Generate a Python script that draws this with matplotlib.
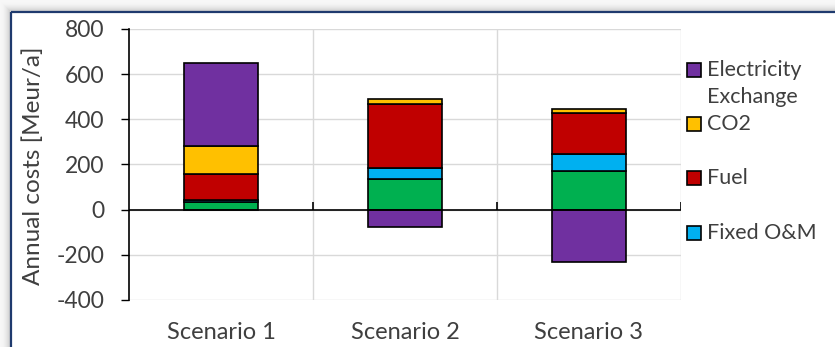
import numpy as np
import matplotlib
matplotlib.use("Agg")
import matplotlib.pyplot as plt
from matplotlib.patches import Rectangle

# Annual cost components per scenario [Meur/a]
scenarios = ["Scenario 1", "Scenario 2", "Scenario 3"]
variable_om = [34, 134, 171]
fixed_om = [8, 50, 74]
fuel = [118, 282, 183]
co2 = [120, 26, 16]
electricity_exchange = [369, -75, -232]

series = [
    ("Variable O&M", variable_om, "#00B050"),
    ("Fixed O&M", fixed_om, "#00B0F0"),
    ("Fuel", fuel, "#C00000"),
    ("CO2", co2, "#FFC000"),
    ("Electricity\nExchange", electricity_exchange, "#7030A0"),
]
legend_order = ["Electricity\nExchange", "CO2", "Fuel", "Fixed O&M"]

yticks = [-400, -200, 0, 200, 400, 600, 800]

plt.rcParams["font.family"] = ["Lato", "DejaVu Sans"]
TXT = "#3F3F3F"

W, H = 835, 347
fig = plt.figure(figsize=(W / 100, H / 100), dpi=100)
fig.patch.set_facecolor("white")

# Shadowed frame around the chart area
bg = fig.add_axes([0, 0, 1, 1], zorder=-10)
bg.set_axis_off()
yy, xx = np.mgrid[0:H, 0:W]
fx, fy = 11, 12
d = np.maximum(fx - xx, fy - yy).astype(float)
shade = np.where(d > 0, 0.97 - 0.22 * np.clip(1 - d / 11.0, 0, 1) ** 2, 1.0)
bg.imshow(np.dstack([shade] * 3), extent=[0, W, H, 0], aspect="auto")
bg.set_xlim(0, W)
bg.set_ylim(H, 0)
bg.plot([fx, W], [fy, fy], color="#1F3A6E", lw=1.6, solid_capstyle="butt")
bg.plot([fx, fx], [fy, H], color="#1F3A6E", lw=1.6, solid_capstyle="butt")

ax = fig.add_axes([129 / W, 1 - 300 / H, (681 - 129) / W, (300 - 29) / H])
x = np.arange(len(scenarios))
pos_base = np.zeros(len(scenarios))
neg_base = np.zeros(len(scenarios))
colors = {}
for name, vals, color in series:
    vals = np.asarray(vals, dtype=float)
    base = np.where(vals >= 0, pos_base, neg_base)
    ax.bar(x, vals, width=0.4, bottom=base, color=color,
           edgecolor="black", linewidth=1.2, zorder=3)
    colors[name] = color
    pos_base = pos_base + np.where(vals >= 0, vals, 0)
    neg_base = neg_base + np.where(vals < 0, vals, 0)

ax.set_xlim(-0.5, len(scenarios) - 0.5)
ax.set_ylim(yticks[0], yticks[-1])
ax.set_yticks(yticks)
ax.set_yticklabels([str(t) for t in yticks], fontsize=16.5, color=TXT)
ax.set_xticks(x)
ax.set_xticklabels(scenarios, fontsize=17, color=TXT)
ax.tick_params(axis="x", length=0, pad=16)
ax.tick_params(axis="y", length=6, width=1, direction="out", pad=12, color="black")

# Grid: horizontal at each tick, vertical at category boundaries
for t in yticks:
    ax.axhline(t, color="#D9D9D9", lw=1, zorder=0)
bounds = np.arange(len(scenarios) + 1) - 0.5
for bx in bounds[1:]:
    ax.axvline(bx, color="#D9D9D9", lw=1, zorder=0)
ax.axhline(0, color="black", lw=1.2, zorder=4)
ax.vlines(bounds[1:], 0, 36, color="black", lw=1.2, zorder=4)

for s in ["top", "right", "bottom"]:
    ax.spines[s].set_visible(False)
ax.spines["left"].set_color("black")
ax.spines["left"].set_linewidth(1.2)

fig.text(33 / W, 1 - 166 / H, "Annual costs [Meur/a]", rotation=90,
         ha="center", va="center", fontsize=17.5, color=TXT)

# Legend drawn as swatches with text
leg_y = [70, 124, 178, 233]
for name, ly in zip(legend_order, leg_y):
    fig.patches.append(Rectangle((687 / W, 1 - (ly + 7) / H), 14 / W, 14 / H,
                                 transform=fig.transFigure, facecolor=colors[name],
                                 edgecolor="black", linewidth=1.2))
    fig.text(707 / W, 1 - (ly - 10) / H, name, ha="left", va="top",
             fontsize=15.5, color=TXT, linespacing=1.45)

fig.savefig("out.png", dpi=100)
